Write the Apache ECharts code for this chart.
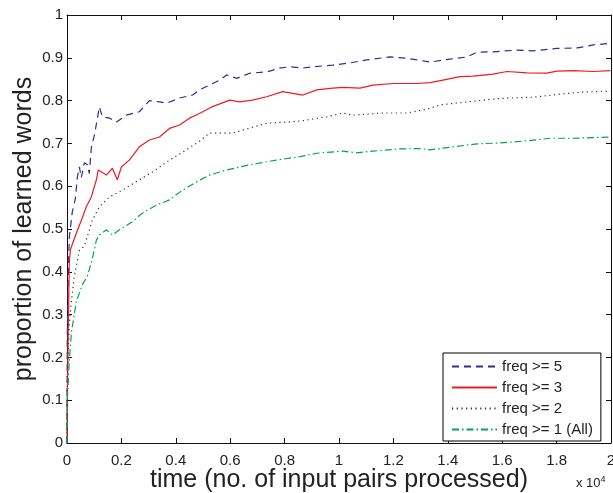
<!DOCTYPE html>
<html>
<head>
<meta charset="utf-8">
<script src="https://cdn.jsdelivr.net/npm/echarts@6/dist/echarts.min.js"></script>
<style>
html,body{margin:0;padding:0;background:#fff;}
#chart{width:613px;height:493px;}
</style>
</head>
<body>
<div id="chart"></div>
<script>
// ---- data (time in input pairs, proportion of learned words) ----
var seriesNames = ['freq >= 5', 'freq >= 3', 'freq >= 2', 'freq >= 1 (All)'];
var xTicks = ['0','0.2','0.4','0.6','0.8','1','1.2','1.4','1.6','1.8','2'];

var tFreq5 = [0, 10, 50, 85, 120, 195, 305, 380, 455, 525, 640, 750, 820, 895, 1010, 1190, 1300, 1560, 1820, 2180, 2660, 3030, 3400, 3660, 4140, 4620, 4870, 5620, 5870, 6240, 6720, 7340, 7820, 8190, 8670, 9030, 9770, 10400, 11020, 11870, 12500, 13350, 14080, 14710, 15070, 15660, 16540, 17140, 18020, 18760, 19350, 19980];
var vFreq5 = [0, 0.25, 0.40, 0.48, 0.50, 0.54, 0.57, 0.62, 0.645, 0.62, 0.655, 0.65, 0.63, 0.69, 0.72, 0.785, 0.762, 0.759, 0.75, 0.766, 0.774, 0.80, 0.797, 0.794, 0.806, 0.813, 0.825, 0.848, 0.860, 0.852, 0.864, 0.867, 0.876, 0.879, 0.876, 0.879, 0.883, 0.888, 0.895, 0.902, 0.899, 0.890, 0.897, 0.902, 0.913, 0.914, 0.918, 0.916, 0.922, 0.923, 0.930, 0.934];

var tFreq3 = [0, 10, 50, 85, 120, 160, 340, 525, 710, 895, 1080, 1150, 1450, 1670, 1850, 2000, 2290, 2660, 3030, 3400, 3770, 4140, 4500, 4870, 5350, 5980, 6350, 6820, 7340, 7930, 8300, 8670, 9180, 9770, 10140, 10770, 11250, 11990, 12850, 13350, 13820, 14450, 14930, 15660, 16180, 16910, 17640, 18020, 18620, 19350, 19980];
var vFreq3 = [0, 0.10, 0.28, 0.42, 0.45, 0.458, 0.49, 0.52, 0.552, 0.575, 0.615, 0.638, 0.626, 0.642, 0.615, 0.645, 0.661, 0.692, 0.708, 0.715, 0.735, 0.743, 0.759, 0.770, 0.786, 0.801, 0.797, 0.801, 0.809, 0.821, 0.817, 0.813, 0.825, 0.829, 0.831, 0.829, 0.836, 0.840, 0.840, 0.842, 0.848, 0.856, 0.857, 0.862, 0.868, 0.865, 0.864, 0.869, 0.870, 0.868, 0.870];

var tFreq2 = [0, 10, 85, 160, 270, 455, 640, 930, 1190, 1560, 2040, 2660, 3140, 3770, 4390, 4870, 5240, 6090, 6460, 7340, 8560, 9550, 10140, 10510, 11610, 12500, 13240, 13720, 14710, 15920, 17140, 18130, 18980, 19980];
var vFreq2 = [0, 0.15, 0.28, 0.33, 0.39, 0.45, 0.46, 0.52, 0.552, 0.575, 0.591, 0.615, 0.633, 0.661, 0.685, 0.705, 0.724, 0.724, 0.731, 0.747, 0.752, 0.762, 0.771, 0.766, 0.771, 0.771, 0.780, 0.790, 0.797, 0.805, 0.808, 0.815, 0.820, 0.822];

var tFreq1 = [0, 10, 85, 160, 340, 565, 750, 930, 1080, 1190, 1450, 1670, 1930, 2400, 2770, 3290, 3770, 4250, 4870, 5240, 5870, 6710, 7700, 8560, 9180, 10140, 10650, 11250, 12240, 12980, 13350, 14200, 15070, 15920, 16910, 17760, 18620, 19980];
var vFreq1 = [0, 0.10, 0.19, 0.257, 0.33, 0.37, 0.39, 0.43, 0.474, 0.486, 0.498, 0.486, 0.498, 0.517, 0.537, 0.556, 0.568, 0.591, 0.614, 0.626, 0.638, 0.650, 0.661, 0.669, 0.677, 0.682, 0.678, 0.682, 0.687, 0.688, 0.685, 0.692, 0.699, 0.701, 0.706, 0.712, 0.712, 0.715];

function pairs(t, v) { return t.map(function (x, i) { return [x, v[i]]; }); }

var FONT = '"Liberation Sans", Arial, Helvetica, sans-serif';
var chart = echarts.init(document.getElementById('chart'), null, {renderer: 'canvas'});

var axisLineStyle = {color: '#111', width: 1};
var option = {
  animation: false,
  backgroundColor: '#fff',
  textStyle: {fontFamily: FONT, color: '#222'},
  grid: {left: 67, right: 2, top: 15, bottom: 50, containLabel: false, outerBoundsMode: 'none'},
  xAxis: [{
    type: 'value', min: 0, max: 20000, interval: 2000, position: 'bottom',
    name: 'time (no. of input pairs processed)', nameLocation: 'middle', nameGap: 25,
    nameMoveOverlap: false,
    nameTextStyle: {fontSize: 25, color: '#222', fontFamily: FONT},
    axisLine: {show: true, lineStyle: axisLineStyle, onZero: false},
    axisTick: {show: true, inside: true, length: 5, lineStyle: {color: '#111'}},
    axisLabel: {fontSize: 15, color: '#222', margin: 10, fontFamily: FONT,
      formatter: function (v) { return xTicks[Math.round(v / 2000)]; }},
    splitLine: {show: false}
  }, {
    type: 'value', min: 0, max: 20000, interval: 2000, position: 'top',
    axisLine: {show: true, lineStyle: axisLineStyle, onZero: false},
    axisTick: {show: true, inside: true, length: 5, lineStyle: {color: '#111'}},
    axisLabel: {show: false}, splitLine: {show: false}
  }],
  yAxis: [{
    type: 'value', min: 0, max: 1, interval: 0.1, position: 'left',
    name: 'proportion of learned words', nameLocation: 'middle', nameGap: 30, nameRotate: 90,
    nameMoveOverlap: false,
    nameTextStyle: {fontSize: 25, color: '#222', fontFamily: FONT},
    axisLine: {show: true, lineStyle: axisLineStyle, onZero: false},
    axisTick: {show: true, inside: true, length: 5, lineStyle: {color: '#111'}},
    axisLabel: {fontSize: 15, color: '#222', margin: 4, fontFamily: FONT,
      formatter: function (v) { return String(Math.round(v * 10) / 10); }},
    splitLine: {show: false}
  }, {
    type: 'value', min: 0, max: 1, interval: 0.1, position: 'right',
    axisLine: {show: true, lineStyle: axisLineStyle, onZero: false},
    axisTick: {show: true, inside: true, length: 5, lineStyle: {color: '#111'}},
    axisLabel: {show: false}, splitLine: {show: false}
  }],
  legend: {
    orient: 'vertical', left: 443, top: 353,
    itemWidth: 45, itemHeight: 14, itemGap: 6,
    padding: [6, 8, 4, 8],
    borderColor: '#000', borderWidth: 1, borderRadius: 0, backgroundColor: '#fff',
    itemStyle: {opacity: 0},
    textStyle: {fontSize: 15, color: '#222', fontFamily: FONT},
    data: seriesNames
  },
  graphic: [{
    type: 'text', left: 576, top: 475,
    style: {
      text: 'x 10{s|4}', fontSize: 13, fill: '#222', fontFamily: FONT,
      rich: {s: {fontSize: 9, verticalAlign: 'top', padding: [0, 0, 8, 0], fontFamily: FONT, fill: '#222'}}
    }
  }],
  series: [
    {name: seriesNames[0], type: 'line', symbol: 'none', showSymbol: false,
     data: pairs(tFreq5, vFreq5),
     lineStyle: {color: '#2b2e8f', width: 1.2, type: [7, 5]}, itemStyle: {color: '#2b2e8f'}},
    {name: seriesNames[1], type: 'line', symbol: 'none', showSymbol: false,
     data: pairs(tFreq3, vFreq3),
     lineStyle: {color: '#ec1c24', width: 1.2, type: 'solid'}, itemStyle: {color: '#ec1c24'}},
    {name: seriesNames[2], type: 'line', symbol: 'none', showSymbol: false,
     data: pairs(tFreq2, vFreq2),
     lineStyle: {color: '#333', width: 1.2, type: [1.2, 3.5]}, itemStyle: {color: '#555'}},
    {name: seriesNames[3], type: 'line', symbol: 'none', showSymbol: false,
     data: pairs(tFreq1, vFreq1),
     lineStyle: {color: '#00a651', width: 1.2, type: [7, 3, 1.5, 3]}, itemStyle: {color: '#00a651'}}
  ]
};
chart.setOption(option);
</script>
</body>
</html>
